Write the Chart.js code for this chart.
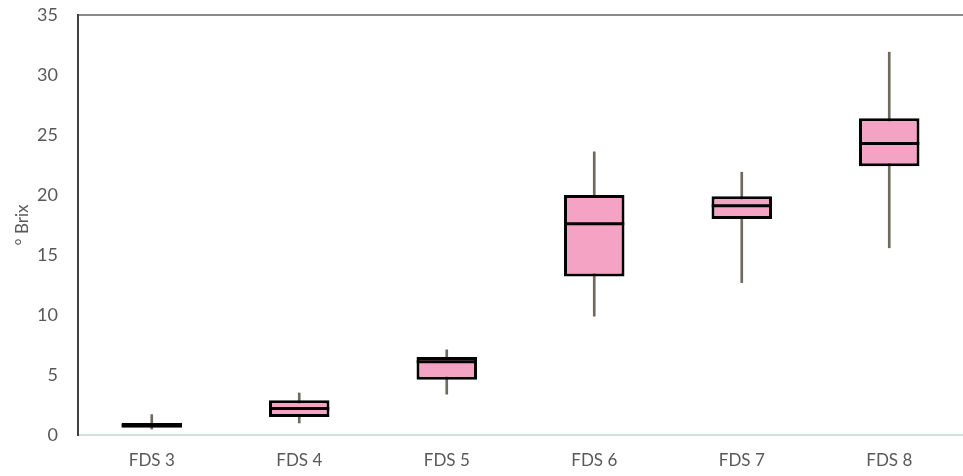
<!DOCTYPE html>
<html>
<head>
<meta charset="utf-8">
<script src="https://cdn.jsdelivr.net/npm/chart.js@4.4.1/dist/chart.umd.min.js"></script>
<style>
  html, body { margin: 0; padding: 0; background: #fff; overflow: hidden; }
</style>
</head>
<body>
<canvas id="chart" width="963" height="476"></canvas>
<script>
// Box plot values (° Brix)
const categories = ['FDS 3', 'FDS 4', 'FDS 5', 'FDS 6', 'FDS 7', 'FDS 8'];
const whiskerMin = [0.5, 1.0, 3.4, 9.9, 12.7, 15.6];
const boxQ1 = [0.6, 1.5, 4.6, 13.2, 18.0, 22.4];
const medians = [0.8, 2.2, 6.1, 17.6, 19.1, 24.3];
const boxQ3 = [1.0, 2.9, 6.5, 20.0, 19.9, 26.4];
const whiskerMax = [1.7, 3.5, 7.1, 23.6, 21.9, 31.9];
const yTicks = [0, 5, 10, 15, 20, 25, 30, 35];

const FONT = 'Lato, "Open Sans", sans-serif';
const TEXT = '#595959';

const ctx = document.getElementById('chart').getContext('2d');
new Chart(ctx, {
    type: 'bar',
    data: {
        labels: categories,
        datasets: [
            {
                // median line, drawn on top
                type: 'line',
                data: medians,
                showLine: false,
                pointStyle: 'line',
                pointRadius: 30,
                pointHoverRadius: 30,
                pointBorderWidth: 3,
                pointBorderColor: '#000',
                order: 0
            },
            {
                // box q1 -> q3
                data: categories.map((c, i) => [boxQ1[i], boxQ3[i]]),
                backgroundColor: '#f4a3c4',
                borderColor: '#000',
                borderWidth: 3,
                borderSkipped: false,
                barPercentage: 0.41,
                categoryPercentage: 1,
                grouped: false,
                order: 1
            },
            {
                // whisker min -> max
                data: categories.map((c, i) => [whiskerMin[i], whiskerMax[i]]),
                backgroundColor: '#6e6b5e',
                barThickness: 2,
                grouped: false,
                order: 2
            }
        ]
    },
    options: {
        responsive: false,
        animation: false,
        layout: { autoPadding: false, padding: { top: 0, right: 0, left: 12, bottom: 0 } },
        plugins: {
            legend: { display: false },
            tooltip: { enabled: false }
        },
        scales: {
            x: {
                grid: { display: false },
                border: { color: '#cfe2de', width: 2 },
                ticks: { color: TEXT, font: { family: FONT, size: 17 }, padding: 7 },
                afterFit: (axis) => { axis.height = 41; }
            },
            x2: {
                position: 'top',
                labels: categories,
                grid: { display: false },
                ticks: { display: false },
                border: { color: '#8a8a8a', width: 2 },
                afterFit: (axis) => { axis.height = 15; }
            },
            y: {
                min: 0,
                max: 35,
                afterBuildTicks: (axis) => { axis.ticks = yTicks.map(v => ({ value: v })); },
                afterFit: (axis) => {
                    axis.width = 66;
                    axis.paddingTop = 8;
                    axis.paddingBottom = 8;
                },
                grid: { display: false },
                border: { color: '#404040', width: 2 },
                ticks: { color: TEXT, font: { family: FONT, size: 18 }, padding: 12 },
                title: {
                    display: true,
                    text: '° Brix',
                    color: TEXT,
                    font: { family: FONT, size: 17 },
                    padding: { top: 0, bottom: 0 }
                }
            }
        }
    }
});
</script>
</body>
</html>
